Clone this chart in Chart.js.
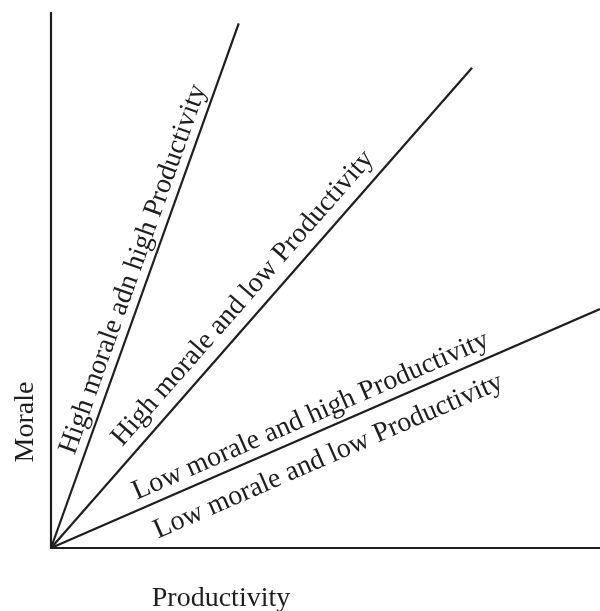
<!DOCTYPE html>
<html>
<head>
<meta charset="utf-8">
<script src="https://cdn.jsdelivr.net/npm/chart.js@4.4.1/dist/chart.umd.min.js"></script>
<style>
  html, body { margin: 0; padding: 0; background: #fff; }
  #wrap { width: 600px; height: 611px; }
</style>
</head>
<body>
<div id="wrap"><canvas id="chart"></canvas></div>
<script>
// rays from the origin (Productivity on x, Morale on y, both 0..100)
const lineNames = ['steep', 'middle', 'flat']
const lineEndX = [34.2, 76.7, 100]
const lineEndY = [97.9, 89.6, 44.6]

// text written along the rays, and which ray each one follows
const labelTexts = [
    'High morale adn high Productivity',
    'High morale and low Productivity',
    'Low morale and high Productivity',
    'Low morale and low Productivity'
]
const labelLine = [0, 1, 2, 2]

const xTitle = 'Productivity'
const yTitle = 'Morale'

const ink = '#1e1e1e'
const serif = '"Liberation Serif", "Times New Roman", serif'

// where each label sits: distance from origin along its ray, and px off the ray (+ = above)
const labelPlace = [
    { along: 95, off: 9 },
    { along: 123, off: 13 },
    { along: 98, off: 10 },
    { along: 102, off: -34 }
]

const axesAndLabels = {
    id: 'axesAndLabels',
    beforeDatasetsDraw(chart){
        const { ctx, scales: { x, y } } = chart
        const x0 = x.getPixelForValue(0), y0 = y.getPixelForValue(0)
        ctx.save()
        ctx.strokeStyle = ink
        ctx.lineWidth = 2.2
        ctx.beginPath()
        ctx.moveTo(x0, y.getPixelForValue(y.max))
        ctx.lineTo(x0, y0)
        ctx.lineTo(x.getPixelForValue(x.max), y0)
        ctx.stroke()
        ctx.restore()
    },
    afterDatasetsDraw(chart){
        const { ctx, scales: { x, y } } = chart
        const x0 = x.getPixelForValue(0), y0 = y.getPixelForValue(0)
        ctx.save()
        ctx.fillStyle = ink
        ctx.font = '28px ' + serif
        ctx.textBaseline = 'alphabetic'
        labelTexts.forEach((txt, i) => {
            const k = labelLine[i]
            const dx = x.getPixelForValue(lineEndX[k]) - x0
            const dy = y.getPixelForValue(lineEndY[k]) - y0
            const len = Math.hypot(dx, dy)
            const ux = dx / len, uy = dy / len
            // normal pointing to the upper-left side of the ray
            const nx = uy, ny = -ux
            const p = labelPlace[i]
            const px = x0 + ux * p.along + nx * p.off
            const py = y0 + uy * p.along + ny * p.off
            ctx.save()
            ctx.translate(px, py)
            ctx.rotate(Math.atan2(dy, dx))
            ctx.textAlign = 'left'
            ctx.fillText(txt, 0, 0)
            ctx.restore()
        })
        // axis titles
        ctx.textAlign = 'center'
        ctx.fillText(xTitle, 221, 606)
        ctx.save()
        ctx.translate(33, 422)
        ctx.rotate(-Math.PI / 2)
        ctx.fillText(yTitle, 0, 0)
        ctx.restore()
        ctx.restore()
    }
}

new Chart(document.getElementById('chart'), {
    type: 'line',
    data: {
        datasets: lineNames.map((name, i) => ({
            label: name,
            data: [{ x: 0, y: 0 }, { x: lineEndX[i], y: lineEndY[i] }],
            borderColor: ink,
            borderWidth: 2.2,
            pointRadius: 0,
            tension: 0,
            clip: false
        }))
    },
    options: {
        responsive: true,
        maintainAspectRatio: false,
        animation: false,
        events: [],
        layout: { padding: { left: 51, right: 0, top: 12, bottom: 63 } },
        plugins: { legend: { display: false }, tooltip: { enabled: false } },
        scales: {
            x: { type: 'linear', min: 0, max: 100, display: false },
            y: { type: 'linear', min: 0, max: 100, display: false }
        }
    },
    plugins: [axesAndLabels]
})
</script>
</body>
</html>
